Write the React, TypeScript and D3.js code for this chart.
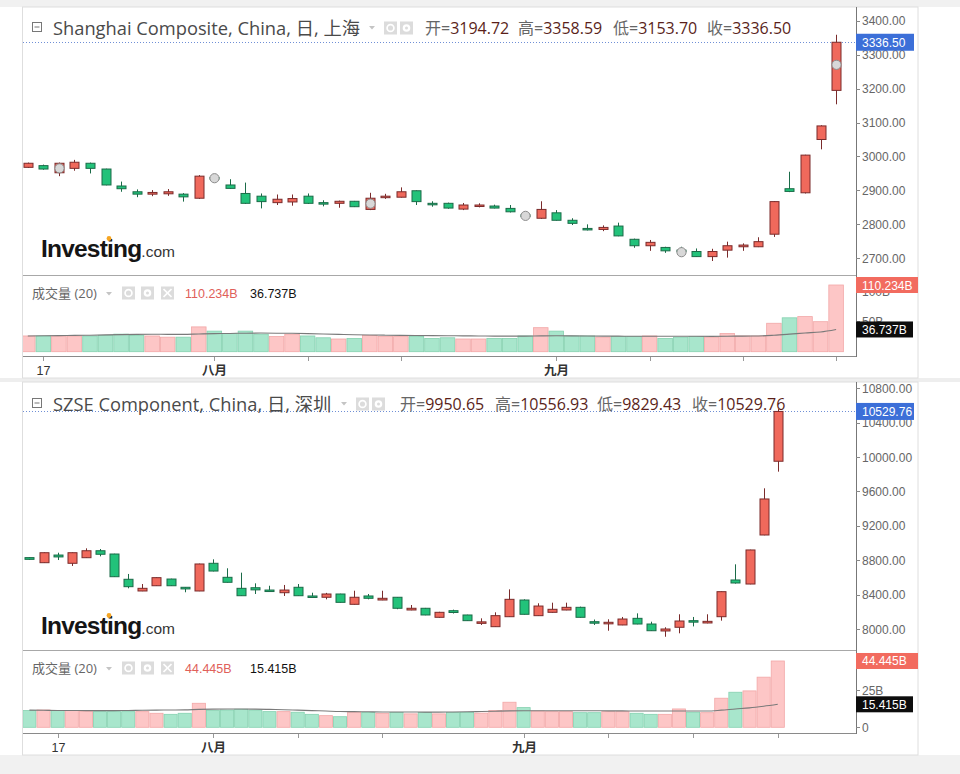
import React from "react";
import * as d3 from "d3";

// ---------------- DATA ----------------
// Shanghai Composite (daily)
const shOpen = [2968, 2973, 2952, 2965, 2980, 2963, 2913, 2896, 2889, 2890, 2889, 2877, 2938, 2916, 2891, 2883, 2864, 2866, 2883, 2864, 2862, 2868, 2844, 2880, 2880, 2899, 2862, 2862, 2845, 2854, 2854, 2847, 2828, 2818, 2834, 2812, 2788, 2785, 2795, 2756, 2737, 2732, 2724, 2720, 2705, 2724, 2734, 2734, 2771, 2905, 2893, 3050, 3194.72];
const shHigh = [2982, 2976, 2982, 2990, 2982, 2964, 2926, 2903, 2901, 2904, 2892, 2945, 2941, 2933, 2923, 2891, 2888, 2888, 2891, 2871, 2870, 2869, 2893, 2890, 2909, 2900, 2868, 2864, 2863, 2862, 2858, 2857, 2830, 2868, 2842, 2818, 2800, 2797, 2805, 2758, 2754, 2734, 2734, 2729, 2728, 2749, 2744, 2762, 2868, 2955, 3005, 3092, 3358.59];
const shLow = [2966, 2961, 2942, 2958, 2950, 2915, 2896, 2880, 2883, 2884, 2867, 2875, 2930, 2905, 2860, 2847, 2857, 2855, 2860, 2853, 2849, 2851, 2842, 2875, 2879, 2857, 2852, 2846, 2842, 2850, 2847, 2835, 2820, 2816, 2811, 2798, 2782, 2780, 2765, 2731, 2722, 2716, 2714, 2704, 2692, 2702, 2722, 2733, 2763, 2895, 2891, 3021, 3153.70];
const shClose = [2980, 2963, 2980, 2983, 2965, 2916, 2905, 2889, 2894, 2896, 2881, 2942, 2935, 2906, 2862, 2867, 2874, 2876, 2862, 2862, 2868, 2852, 2877, 2883, 2896, 2867, 2859, 2848, 2857, 2857, 2848, 2837, 2823, 2844, 2812, 2803, 2784, 2791, 2766, 2737, 2747, 2722, 2720, 2705, 2720, 2737, 2739, 2749, 2867, 2897, 3004, 3090, 3336.50];
const shVolume = [26, 26, 26, 26, 26, 27, 29, 27, 26, 24, 24, 41, 34, 30, 34, 29, 25, 29, 26, 23, 21, 22, 27, 25, 25, 25, 22, 23, 21, 21, 22, 22, 26, 39.7, 34, 26, 26, 24, 25, 25, 26, 22, 24, 25, 24, 30, 26, 26, 47, 56, 58, 49.6, 110.234];
const shVolumeMA = [26, 26.3, 26.6, 27, 27.3, 27.8, 28.3, 28.6, 28.8, 28.7, 28.6, 29.3, 29.8, 30.2, 30.6, 30.8, 30.6, 30.4, 29.8, 29.2, 28.6, 28, 27.6, 27.3, 27, 26.8, 26.6, 26.4, 26.2, 26, 25.8, 25.8, 25.8, 26.2, 26.3, 26.2, 26, 25.8, 25.7, 25.6, 25.6, 25.5, 25.5, 25.5, 25.4, 25.6, 25.8, 26, 27.2, 29, 31, 32.6, 36.737];
const shMarkerIdx = [2, 12, 22, 32, 42, 52];
const shMarkerVal = [2965, 2936, 2861, 2825, 2718, 3270];
const shPriceTicks = [2700, 2800, 2900, 3000, 3100, 3200, 3300, 3400];
const shVolTicks = [50, 100];
const shTickIdx = [1, 12, 18, 24, 34, 40, 46, 52];

// SZSE Component (daily)
const szOpen = [8830, 8771, 8860, 8764, 8829, 8910, 8872, 8578, 8442, 8503, 8581, 8485, 8442, 8764, 8601, 8473, 8480, 8453, 8422, 8485, 8384, 8369, 8407, 8287, 8384, 8337, 8369, 8221, 8241, 8136, 8213, 8163, 8068, 8027, 8143, 8337, 8155, 8194, 8221, 8252, 8085, 8060, 8047, 8124, 8058, 7977, 8020, 8097, 8070, 8143, 8570, 8523, 9093, 9950.65];
const szHigh = [8835, 8890, 8887, 8890, 8938, 8930, 8875, 8640, 8523, 8600, 8585, 8488, 8760, 8810, 8706, 8655, 8531, 8503, 8512, 8523, 8422, 8420, 8410, 8445, 8407, 8445, 8372, 8279, 8245, 8200, 8225, 8166, 8124, 8194, 8461, 8345, 8299, 8306, 8306, 8260, 8110, 8113, 8140, 8182, 8085, 8020, 8171, 8140, 8171, 8437, 8752, 8922, 9636, 10556.93];
const szLow = [8805, 8768, 8802, 8733, 8826, 8845, 8605, 8473, 8440, 8500, 8500, 8427, 8440, 8670, 8540, 8385, 8407, 8440, 8384, 8385, 8367, 8345, 8307, 8284, 8345, 8335, 8230, 8218, 8160, 8130, 8180, 8094, 8047, 8025, 8140, 8168, 8152, 8190, 8218, 8133, 8047, 7980, 8044, 8055, 7977, 7910, 7950, 8030, 8066, 8097, 8528, 8520, 9090, 9829.43];
const szClose = [8810, 8887, 8838, 8887, 8910, 8869, 8608, 8492, 8473, 8597, 8503, 8466, 8756, 8674, 8543, 8387, 8455, 8444, 8453, 8387, 8370, 8407, 8310, 8369, 8357, 8357, 8241, 8241, 8163, 8194, 8192, 8097, 8083, 8155, 8345, 8171, 8267, 8229, 8252, 8136, 8068, 8078, 8116, 8058, 7980, 8000, 8093, 8080, 8089, 8434, 8535, 8919, 9512, 10529.76];
const szVolume = [11.2, 11.6, 11.2, 11.2, 10.9, 10.5, 10.5, 10.5, 10.5, 9.4, 8.7, 9.4, 16.1, 11.2, 11.6, 12.1, 11.6, 10.5, 10.5, 10.1, 8.7, 7.8, 7.1, 10.1, 10, 9.4, 10, 9, 10, 9, 10, 10, 9.5, 11.2, 16.8, 13.2, 10.9, 10.5, 10.5, 9.8, 9.8, 10.5, 10.5, 9.4, 8.7, 8.7, 12.3, 10.1, 9.8, 19.5, 23.5, 24.4, 33.6, 44.445];
const szVolumeMA = [11.5, 11.4, 11.3, 11.3, 11.2, 11.2, 11.2, 11.3, 11.4, 11.5, 11.6, 11.7, 12.0, 12.2, 12.3, 12.3, 12.2, 12.0, 11.8, 11.5, 11.2, 10.9, 10.6, 10.5, 10.4, 10.3, 10.3, 10.3, 10.2, 10.2, 10.3, 10.4, 10.6, 10.8, 11.0, 11.1, 11.1, 11.1, 11.1, 11.1, 11.1, 11.0, 11.0, 10.9, 10.9, 10.9, 10.9, 10.9, 10.9, 11.5, 12.3, 13.0, 14.1, 15.415];
const szMarkerIdx: number[] = [];
const szMarkerVal: number[] = [];
const szPriceTicks = [8000, 8400, 8800, 9200, 9600, 10000, 10400, 10800];
const szVolTicks = [0, 25];
const szTickIdx = [2, 13, 19, 25, 35, 41, 47, 53];

const xTickLabels = ["17", "八月", "", "", "九月", "", "", ""];
const shName = "Shanghai Composite, China, 日, 上海";
const szName = "SZSE Component, China, 日, 深圳";
const ohlcLabels = ["开=", "高=", "低=", "收="];
const volTitle = "成交量 (20)";

// ---------------- STYLE ----------------
const UI = "'Open Sans', 'Noto Sans', 'Noto Sans CJK SC', sans-serif";
const AX = "'Liberation Sans', Arial, 'Noto Sans CJK SC', sans-serif";
const RED_FILL = "#f0695c";
const RED_STROKE = "#7a2b2b";
const GREEN_FILL = "#22c27a";
const GREEN_STROKE = "#1b6b48";
const VR_FILL = "#fdc6c6";
const VR_STROKE = "#f2a7a7";
const VG_FILL = "#a8e6cc";
const VG_STROKE = "#85d1b0";

type Cfg = {
  top: number; bottom: number; paneBottom: number; volBottom: number;
  xDomain: [number, number];
  yDomain: [number, number]; yRange: [number, number];
  vDomain: [number, number]; vRange: [number, number];
  headerY: number; volHeaderY: number; logoY: number;
  ohlcX: number[]; caretX: number; iconX: number;
};

const LEFT = 23, RIGHT = 856, FRAME_R = 918;

function Icon({ x, y, kind }: { x: number; y: number; kind: string }) {
  return (
    <g transform={`translate(${x},${y})`}>
      <rect x={0} y={0} width={13} height={13} fill="#dcdcdc" />
      {kind === "eye" && <circle cx={6.5} cy={6.5} r={3.4} fill="none" stroke="#fff" strokeWidth={1.7} />}
      {kind === "gear" && (
        <g>
          <circle cx={6.5} cy={6.5} r={3.8} fill="#fff" />
          <circle cx={6.5} cy={6.5} r={1.5} fill="#dcdcdc" />
        </g>
      )}
      {kind === "x" && (
        <g stroke="#fff" strokeWidth={1.7}>
          <line x1={2.5} y1={2.5} x2={10.5} y2={10.5} />
          <line x1={10.5} y1={2.5} x2={2.5} y2={10.5} />
        </g>
      )}
    </g>
  );
}

function Chart(props: {
  cfg: Cfg; name: string; id: string;
  open: number[]; high: number[]; low: number[]; close: number[];
  vol: number[]; volMA: number[];
  markerIdx: number[]; markerVal: number[];
  priceTicks: number[]; volTicks: number[]; tickIdx: number[];
}) {
  const { cfg, open, high, low, close, vol, volMA } = props;
  const x = d3.scaleLinear().domain(cfg.xDomain).range([LEFT, RIGHT]);
  const y = d3.scaleLinear().domain(cfg.yDomain).range(cfg.yRange);
  const yv = d3.scaleLinear().domain(cfg.vDomain).range(cfg.vRange);
  const step = x(1) - x(0);
  const bw = 9;
  const n = close.length;
  const last = n - 1;
  const f2 = d3.format(".2f");
  const f3 = d3.format(".3f");
  const maLine = d3.line<number>().x((_, i) => x(i)).y((d) => yv(d)).curve(d3.curveMonotoneX);
  const closeY = y(close[last]);
  const up = (i: number) => close[i] >= open[i];
  const volBase = yv(0);
  const lastVolY = yv(vol[last]);
  const lastMAY = yv(volMA[last]);
  const ohlc = [open[last], high[last], low[last], close[last]];

  return (
    <g>
      <rect x={LEFT - 0.5} y={cfg.top} width={FRAME_R - LEFT + 0.5} height={cfg.bottom - cfg.top} fill="#fff" stroke="#dedede" />
      <defs>
        <clipPath id={`clip-p-${props.id}`}>
          <rect x={LEFT} y={cfg.top} width={RIGHT - LEFT} height={cfg.paneBottom - cfg.top} />
        </clipPath>
        <clipPath id={`clip-v-${props.id}`}>
          <rect x={LEFT} y={cfg.paneBottom} width={RIGHT - LEFT} height={cfg.volBottom - cfg.paneBottom} />
        </clipPath>
      </defs>

      {/* logo */}
      <g>
        <text x={41} y={cfg.logoY} fontFamily={AX} fontWeight={700} fontSize={24.5} letterSpacing={-0.8} fill="#151515">
          Investing
          <tspan fontWeight={400} fontSize={15.5} letterSpacing={0} fill="#333">.com</tspan>
        </text>
        <circle cx={109} cy={cfg.logoY - 18.5} r={2.4} fill="#f6a623" />
      </g>

      {/* close price dotted line */}
      <line x1={LEFT} x2={RIGHT} y1={Math.round(closeY) + 0.5} y2={Math.round(closeY) + 0.5} stroke="#6f8fd6" strokeDasharray="1,2" />

      {/* candles */}
      <g clipPath={`url(#clip-p-${props.id})`}>
        {close.map((c, i) => {
          const o = open[i];
          const cx = Math.round(x(i)) + 0.5;
          const t = y(Math.max(o, c));
          const b = y(Math.min(o, c));
          const h = Math.max(1.5, b - t);
          const u = up(i);
          return (
            <g key={i}>
              <line x1={cx} x2={cx} y1={y(high[i])} y2={y(low[i])} stroke={u ? RED_STROKE : GREEN_STROKE} />
              <rect x={cx - bw / 2} y={t} width={bw} height={h} fill={u ? RED_FILL : GREEN_FILL} stroke={u ? RED_STROKE : GREEN_STROKE} />
            </g>
          );
        })}
        {props.markerIdx.map((mi, k) => (
          <circle key={k} cx={Math.round(x(mi)) + 0.5} cy={y(props.markerVal[k])} r={4.6} fill="#d8d8d8" stroke="#8c8c8c" />
        ))}
      </g>

      {/* header */}
      <g>
        <rect x={32.5} y={cfg.headerY - 5.5} width={9} height={9} fill="none" stroke="#777" />
        <line x1={34.5} x2={39.5} y1={cfg.headerY - 1} y2={cfg.headerY - 1} stroke="#777" />
        <text x={53} y={cfg.headerY + 6.5} fontFamily={UI} fontSize={18.3} fill="#4a4a4a">{props.name}</text>
        <path d={`M${cfg.caretX},${cfg.headerY - 2} l6,0 l-3,3.5 z`} fill="#c4c4c4" />
        <Icon x={cfg.iconX} y={cfg.headerY - 6.5} kind="eye" />
        <Icon x={cfg.iconX + 16} y={cfg.headerY - 6.5} kind="gear" />
        {ohlcLabels.map((lab, k) => (
          <text key={k} x={cfg.ohlcX[k]} y={cfg.headerY + 5.5} fontFamily={UI} fontSize={16}>
            <tspan fill="#666">{lab}</tspan>
            <tspan fill="#5a1f1a">{f2(ohlc[k])}</tspan>
          </text>
        ))}
      </g>

      {/* pane separator */}
      <line x1={LEFT} x2={RIGHT} y1={cfg.paneBottom + 0.5} y2={cfg.paneBottom + 0.5} stroke="#a8a8a8" />

      {/* volume bars */}
      <g clipPath={`url(#clip-v-${props.id})`}>
        {vol.map((v, i) => {
          const u = up(i);
          const x0 = x(i) - step / 2;
          const t = yv(v);
          return (
            <rect key={i} x={x0 + 0.5} y={t} width={step - 1} height={volBase - t}
              fill={u ? VR_FILL : VG_FILL} stroke={u ? VR_STROKE : VG_STROKE} strokeWidth={0.8} />
          );
        })}
        <path d={maLine(volMA) || ""} fill="none" stroke="#7a7a7a" strokeWidth={1.1} />
      </g>

      {/* volume header */}
      <g>
        <text x={32} y={cfg.volHeaderY + 5} fontFamily={UI} fontSize={13} fill="#666">{volTitle}</text>
        <path d={`M${106},${cfg.volHeaderY - 1} l6,0 l-3,3.5 z`} fill="#c4c4c4" />
        <Icon x={122} y={cfg.volHeaderY - 6.5} kind="eye" />
        <Icon x={141} y={cfg.volHeaderY - 6.5} kind="gear" />
        <Icon x={161} y={cfg.volHeaderY - 6.5} kind="x" />
        <text x={185} y={cfg.volHeaderY + 5} fontFamily={AX} fontSize={12.5} fill="#e0605a">{f3(vol[last])}B</text>
        <text x={250} y={cfg.volHeaderY + 5} fontFamily={AX} fontSize={12.5} fill="#111">{f3(volMA[last])}B</text>
      </g>

      {/* bottom axis */}
      <line x1={LEFT} x2={RIGHT} y1={cfg.volBottom + 0.5} y2={cfg.volBottom + 0.5} stroke="#8a8a8a" />
      {props.tickIdx.map((ti, k) => {
        const tx = Math.round(x(ti)) + 0.5;
        return (
          <g key={k}>
            <line x1={tx} x2={tx} y1={cfg.volBottom + 1} y2={cfg.volBottom + 5} stroke="#999" />
            {xTickLabels[k] && (
              <text x={tx} y={cfg.volBottom + 19} textAnchor="middle" fontFamily={AX} fontSize={12.5}
                fontWeight={xTickLabels[k] === "17" ? 400 : 700} fill="#333">{xTickLabels[k]}</text>
            )}
          </g>
        );
      })}

      {/* right axis */}
      <line x1={RIGHT + 0.5} x2={RIGHT + 0.5} y1={cfg.top} y2={cfg.volBottom + 1} stroke="#777" />
      {props.priceTicks.map((t) => (
        <g key={t}>
          <line x1={RIGHT} x2={RIGHT + 4} y1={Math.round(y(t)) + 0.5} y2={Math.round(y(t)) + 0.5} stroke="#888" />
          <text x={RIGHT + 6} y={y(t) + 4.5} fontFamily={AX} fontSize={12} fill="#666">{f2(t)}</text>
        </g>
      ))}
      {props.volTicks.map((t) => (
        <g key={t}>
          <line x1={RIGHT} x2={RIGHT + 4} y1={Math.round(yv(t)) + 0.5} y2={Math.round(yv(t)) + 0.5} stroke="#888" />
          <text x={RIGHT + 6} y={yv(t) + 4.5} fontFamily={AX} fontSize={12} fill="#666">{t === 0 ? "0" : `${t}B`}</text>
        </g>
      ))}

      {/* last value labels */}
      <rect x={RIGHT} y={closeY - 8.5} width={58} height={17} fill="#3c6fd8" />
      <text x={RIGHT + 6} y={closeY + 4.5} fontFamily={AX} fontSize={12} fill="#fff">{f2(close[last])}</text>
      <rect x={RIGHT} y={lastVolY - 8} width={62} height={16} fill="#f26b5f" />
      <text x={RIGHT + 6} y={lastVolY + 4.5} fontFamily={AX} fontSize={12} fill="#fff">{f3(vol[last])}B</text>
      <rect x={RIGHT} y={lastMAY - 8} width={57} height={16} fill="#0d0d0d" />
      <text x={RIGHT + 6} y={lastMAY + 4.5} fontFamily={AX} fontSize={12} fill="#fff">{f3(volMA[last])}B</text>
    </g>
  );
}

const shCfg: Cfg = {
  top: 7, bottom: 378, paneBottom: 275, volBottom: 356,
  xDomain: [-0.31, 53.28],
  yDomain: [2700, 3400], yRange: [258.3, 20.7],
  vDomain: [0, 110.234], vRange: [351.7, 285],
  headerY: 28, volHeaderY: 293, logoY: 257,
  ohlcX: [425, 518, 613, 707], caretX: 369, iconX: 384,
};

const szCfg: Cfg = {
  top: 382, bottom: 755, paneBottom: 650, volBottom: 733,
  xDomain: [-0.453, 58.54],
  yDomain: [8000, 10800], yRange: [629, 388.2],
  vDomain: [0, 25], vRange: [727.3, 690],
  headerY: 404, volHeaderY: 668, logoY: 634,
  ohlcX: [400, 495, 597, 692], caretX: 341, iconX: 356,
};

export default function App() {
  return (
    <div style={{ position: "absolute", left: 0, top: 0, width: 960, height: 774 }}>
      <svg width={960} height={774} style={{ display: "block" }}>
        <rect x={0} y={0} width={960} height={774} fill="#fff" />
        <rect x={0} y={0} width={960} height={7} fill="#f1f1f1" />
        <rect x={0} y={755} width={960} height={19} fill="#f1f1f1" />
        <rect x={0} y={378} width={960} height={4} fill="#eeeeee" />
        <Chart id="sh" cfg={shCfg} name={shName} open={shOpen} high={shHigh} low={shLow} close={shClose}
          vol={shVolume} volMA={shVolumeMA} markerIdx={shMarkerIdx} markerVal={shMarkerVal}
          priceTicks={shPriceTicks} volTicks={shVolTicks} tickIdx={shTickIdx} />
        <Chart id="sz" cfg={szCfg} name={szName} open={szOpen} high={szHigh} low={szLow} close={szClose}
          vol={szVolume} volMA={szVolumeMA} markerIdx={szMarkerIdx} markerVal={szMarkerVal}
          priceTicks={szPriceTicks} volTicks={szVolTicks} tickIdx={szTickIdx} />
      </svg>
    </div>
  );
}
